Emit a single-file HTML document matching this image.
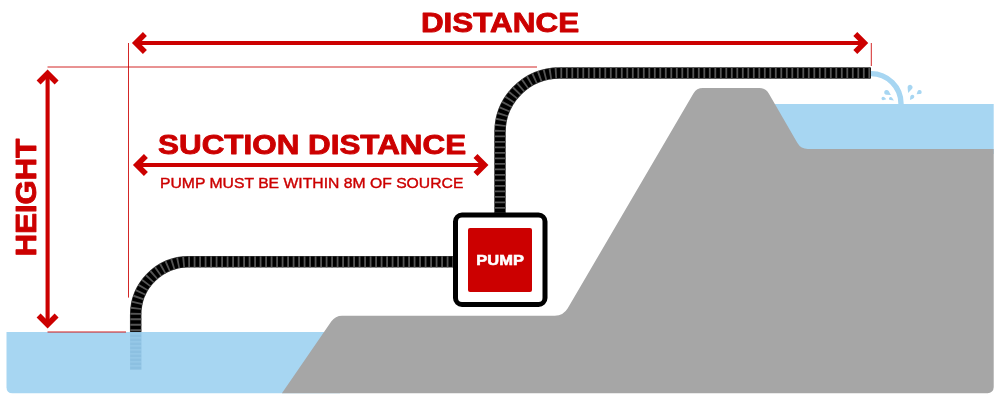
<!DOCTYPE html>
<html><head><meta charset="utf-8">
<style>
html,body{margin:0;padding:0;background:#fff;width:1000px;height:400px;overflow:hidden}
svg{display:block;will-change:transform}
text{font-family:"Liberation Sans",sans-serif}
</style></head>
<body>
<svg width="1000" height="400" viewBox="0 0 1000 400">
<defs>
  <clipPath id="abovewater"><rect x="0" y="0" width="1000" height="332"/></clipPath>
</defs>
<!-- water left -->
<path d="M6.5 332 H340 V393.2 H12.5 Q6.5 393.2 6.5 387.2 Z" fill="#a7d6f2"/>
<!-- water right -->
<rect x="760" y="104" width="233.7" height="50" fill="#a7d6f2"/>
<!-- submerged hose -->
<rect x="130.1" y="332" width="11.3" height="37.8" fill="#3a7fb0" opacity="0.25"/>
<line x1="135.75" y1="332" x2="135.75" y2="369.8" stroke="#a7d6f2" stroke-width="11.3" stroke-dasharray="1.3 2.7" stroke-dashoffset="-1.2" opacity="0.5"/>
<!-- ground -->
<path id="ground" d="M281.90 393.20L331.42 321.32A13 13 0 0 1 342.13 315.70L554.80 315.70A15 15 0 0 0 567.74 308.27L693.41 93.45A11 11 0 0 1 702.91 88.00L759.26 88.00A11 11 0 0 1 768.78 93.49L797.43 143.01A12 12 0 0 0 807.82 149.00L993.70 149.00L993.70 387.20A6 6 0 0 1 987.70 393.20Z" fill="#a6a6a6"/>

<!-- guide lines -->
<line x1="47.5" y1="67" x2="537" y2="67" stroke="#cc0000" stroke-width="1" opacity="0.85"/>
<line x1="47.5" y1="332" x2="126" y2="332" stroke="#cc0000" stroke-width="1" opacity="0.9"/>
<line x1="128.5" y1="43" x2="128.5" y2="297.6" stroke="#cc0000" stroke-width="1" opacity="0.85"/>
<line x1="871.3" y1="43" x2="871.3" y2="66" stroke="#cc0000" stroke-width="1" opacity="0.85"/>

<!-- hose -->
<g fill="none" clip-path="url(#abovewater)">
  <path d="M135.7 345 V314.75 A53 53 0 0 1 188.7 261.75 H455" stroke="#2e2e2e" stroke-width="11.5"/>
  <path d="M135.7 345 V314.75 A53 53 0 0 1 188.7 261.75 H455" stroke="#000" stroke-width="10"/>
  <path d="M135.7 345 V314.75 A53 53 0 0 1 188.7 261.75 H455" stroke="#555" stroke-width="11" stroke-dasharray="1.8 3.7" stroke-dashoffset="-2.85"/>
</g>
<g fill="none">
  <path d="M500 214 V132.4 A59.5 59.5 0 0 1 559.5 72.9 H870.8" stroke="#2e2e2e" stroke-width="11.5"/>
  <path d="M500 214 V132.4 A59.5 59.5 0 0 1 559.5 72.9 H870.8" stroke="#000" stroke-width="10"/>
  <path d="M500 214 V132.4 A59.5 59.5 0 0 1 559.5 72.9 H870.8" stroke="#555" stroke-width="11" stroke-dasharray="1.8 3.7" stroke-dashoffset="0.2"/>
</g>

<!-- water stream -->
<path d="M871 73.6 A30 30 0 0 1 901 103.6 V106" fill="none" stroke="#a7d6f2" stroke-width="5.4"/>
<!-- splash droplets -->
<g fill="#a7d6f2">
<path d="M890.90 94.90L886.49 94.70A2.4 2.4 0 1 1 888.67 91.09Z"/>
<path d="M886.30 99.30L883.71 100.12A1.7 1.7 0 1 1 884.43 97.33Z"/>
<path d="M893.90 100.60L890.37 100.08A1.6 1.6 0 1 1 891.94 97.62Z"/>
<path d="M908.10 93.00L907.61 87.52A2.5 2.5 0 1 1 911.90 89.03Z"/>
<path d="M916.60 94.30L917.61 91.32A2.1 2.1 0 1 1 919.74 94.10Z"/>
<path d="M910.00 100.10L910.31 96.53A2.0 2.0 0 1 1 913.20 98.49Z"/>
</g>

<!-- pump box -->
<rect x="455.5" y="215" width="89.5" height="89.5" rx="6.5" ry="6.5" fill="#fff" stroke="#000" stroke-width="5"/>
<rect x="468" y="228" width="64" height="64" rx="2" ry="2" fill="#cc0000"/>
<text x="500.1" y="265" text-anchor="middle" font-weight="bold" font-size="14.8" fill="#fff" stroke="#fff" stroke-width="0.55" textLength="47.6" lengthAdjust="spacingAndGlyphs">PUMP</text>

<!-- arrows -->
<g stroke="#cc0000" fill="none">
  <!-- distance -->
  <line x1="134" y1="43" x2="866" y2="43" stroke-width="4.2"/>
  <polyline points="144.9,34 135.9,43 144.9,52" stroke-width="5.6"/>
  <polyline points="855.3,34 864.3,43 855.3,52" stroke-width="5.6"/>
  <!-- suction -->
  <line x1="135" y1="165" x2="486" y2="165" stroke-width="4"/>
  <polyline points="145.9,156 136.9,165 145.9,174" stroke-width="5.6"/>
  <polyline points="475.5,156 484.5,165 475.5,174" stroke-width="5.6"/>
  <!-- height -->
  <line x1="47.6" y1="72" x2="47.6" y2="326" stroke-width="4.1"/>
  <polyline points="38.6,82.4 47.6,73.4 56.6,82.4" stroke-width="5.6"/>
  <polyline points="38.6,315.6 47.6,324.6 56.6,315.6" stroke-width="5.6"/>
</g>

<!-- labels -->
<g fill="#cc0000" font-weight="bold" stroke="#cc0000" stroke-width="0.9" stroke-linejoin="round">
  <text x="420.9" y="31.6" font-size="28.2" textLength="158.2" lengthAdjust="spacingAndGlyphs">DISTANCE</text>
  <text x="158.1" y="153.8" font-size="28.2" textLength="308" lengthAdjust="spacingAndGlyphs">SUCTION DISTANCE</text>
  <text transform="translate(36 256.3) rotate(-90)" x="0" y="0" font-size="28.6" textLength="117.5" lengthAdjust="spacingAndGlyphs">HEIGHT</text>
</g>
<text x="160" y="188" font-size="15.3" fill="#cc0000" stroke="#cc0000" stroke-width="0.4" textLength="303.4" lengthAdjust="spacingAndGlyphs">PUMP MUST BE WITHIN 8M OF SOURCE</text>
</svg>
</body></html>
